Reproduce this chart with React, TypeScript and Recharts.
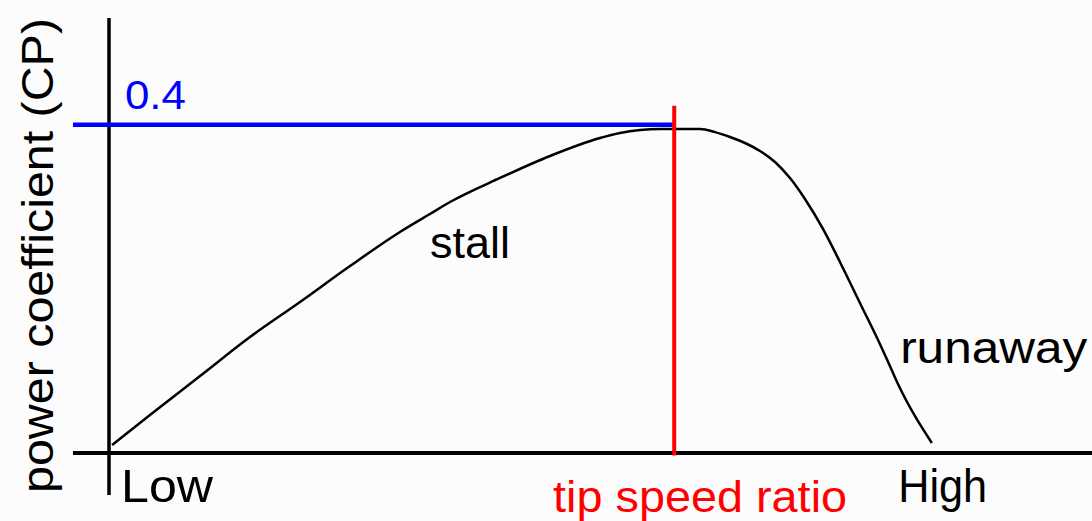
import React from 'react';
import { LineChart, Line, XAxis, YAxis, ReferenceLine, ReferenceDot } from 'recharts';

// tip speed ratio (arbitrary units, 0 at the Cp axis)
const tsrValues = [0.037, 0.5, 1.111, 1.721, 2.332, 2.942, 3.552, 3.918, 4.163, 4.773, 5.383, 5.994, 6.238, 6.482, 6.726, 7.215, 7.398, 7.581, 7.764, 7.947, 8.13, 8.313, 8.496, 8.716, 8.923, 9.167, 9.411, 9.533, 9.655, 9.838, 10.045];
// power coefficient
const cpValues = [0.0097, 0.0463, 0.0938, 0.1413, 0.184, 0.2278, 0.2693, 0.2912, 0.3058, 0.3351, 0.3619, 0.3838, 0.3899, 0.3935, 0.3948, 0.3948, 0.391, 0.385, 0.3777, 0.368, 0.3545, 0.335, 0.3095, 0.273, 0.2327, 0.1827, 0.1328, 0.106, 0.0792, 0.0451, 0.0122];

const maxCp = 0.4;
const optimalTsr = 6.9;

const xDomain = [0, 12];
const yDomain = [0, 0.53];

const tickLabels = ['Low', 'High'];
const tickPositions = [0.147, 9.634];

const data = tsrValues.map((t, i) => ({ tsr: t, cp: cpValues[i] }));

const FONT = '"Liberation Sans", Arial, sans-serif';

type TxtProps = { text: string; color: string; size: number; len: number; rotate?: boolean; anchor?: 'start' | 'middle' };

const makeLabel = ({ text, color, size, len, rotate, anchor = 'start' }: TxtProps) => (props: any) => {
  const vb = props.viewBox || {};
  const x = vb.x ?? 0;
  const y = vb.y ?? 0;
  return (
    <text
      x={x}
      y={y}
      fill={color}
      fontSize={size}
      fontFamily={FONT}
      textAnchor={anchor}
      textLength={len}
      lengthAdjust="spacingAndGlyphs"
      transform={rotate ? `rotate(-90, ${x}, ${y})` : undefined}
    >
      {text}
    </text>
  );
};

export default function App() {
  return (
    <div style={{ position: 'absolute', left: 0, top: 0, width: 1092, height: 521, background: '#fcfcfc' }}>
      <LineChart width={1092} height={521} data={data} margin={{ top: 18, right: 0, bottom: 68, left: 109 }}>
        <XAxis dataKey="tsr" type="number" domain={xDomain} allowDataOverflow hide />
        <YAxis type="number" domain={yDomain} allowDataOverflow hide />
        <Line
          dataKey="cp"
          type="monotone"
          stroke="#000"
          strokeWidth={2.5}
          dot={false}
          isAnimationActive={false}
        />
        <ReferenceLine segment={[{ x: -0.44, y: 0 }, { x: 12, y: 0 }]} stroke="#000" strokeWidth={4} ifOverflow="visible" />
        <ReferenceLine segment={[{ x: 0, y: -0.0512 }, { x: 0, y: 0.53 }]} stroke="#000" strokeWidth={3.5} ifOverflow="visible" />
        <ReferenceLine segment={[{ x: -0.44, y: maxCp }, { x: optimalTsr + 0.02, y: maxCp }]} stroke="#0000ff" strokeWidth={4.5} ifOverflow="visible" />
        <ReferenceLine segment={[{ x: optimalTsr, y: -0.003 }, { x: optimalTsr, y: 0.423 }]} stroke="#ff0000" strokeWidth={4} ifOverflow="visible" />

        <ReferenceDot x={0.195} y={0.419} r={0} ifOverflow="visible" label={makeLabel({ text: String(maxCp), color: '#0000ff', size: 40, len: 61 })} />
        <ReferenceDot x={3.92} y={0.2376} r={0} ifOverflow="visible" label={makeLabel({ text: 'stall', color: '#000', size: 45, len: 80 })} />
        <ReferenceDot x={9.658} y={0.1097} r={0} ifOverflow="visible" label={makeLabel({ text: 'runaway', color: '#000', size: 45, len: 187 })} />
        <ReferenceDot x={tickPositions[0]} y={-0.0597} r={0} ifOverflow="visible" label={makeLabel({ text: tickLabels[0], color: '#000', size: 46, len: 92 })} />
        <ReferenceDot x={tickPositions[1]} y={-0.0597} r={0} ifOverflow="visible" label={makeLabel({ text: tickLabels[1], color: '#000', size: 46, len: 89 })} />
        <ReferenceDot x={5.421} y={-0.0718} r={0} ifOverflow="visible" label={makeLabel({ text: 'tip speed ratio', color: '#ff0000', size: 44, len: 294 })} />
        <ReferenceDot x={-0.684} y={0.2406} r={0} ifOverflow="visible" label={makeLabel({ text: 'power coefficient (CP)', color: '#000', size: 44, len: 475, rotate: true, anchor: 'middle' })} />
      </LineChart>
    </div>
  );
}
